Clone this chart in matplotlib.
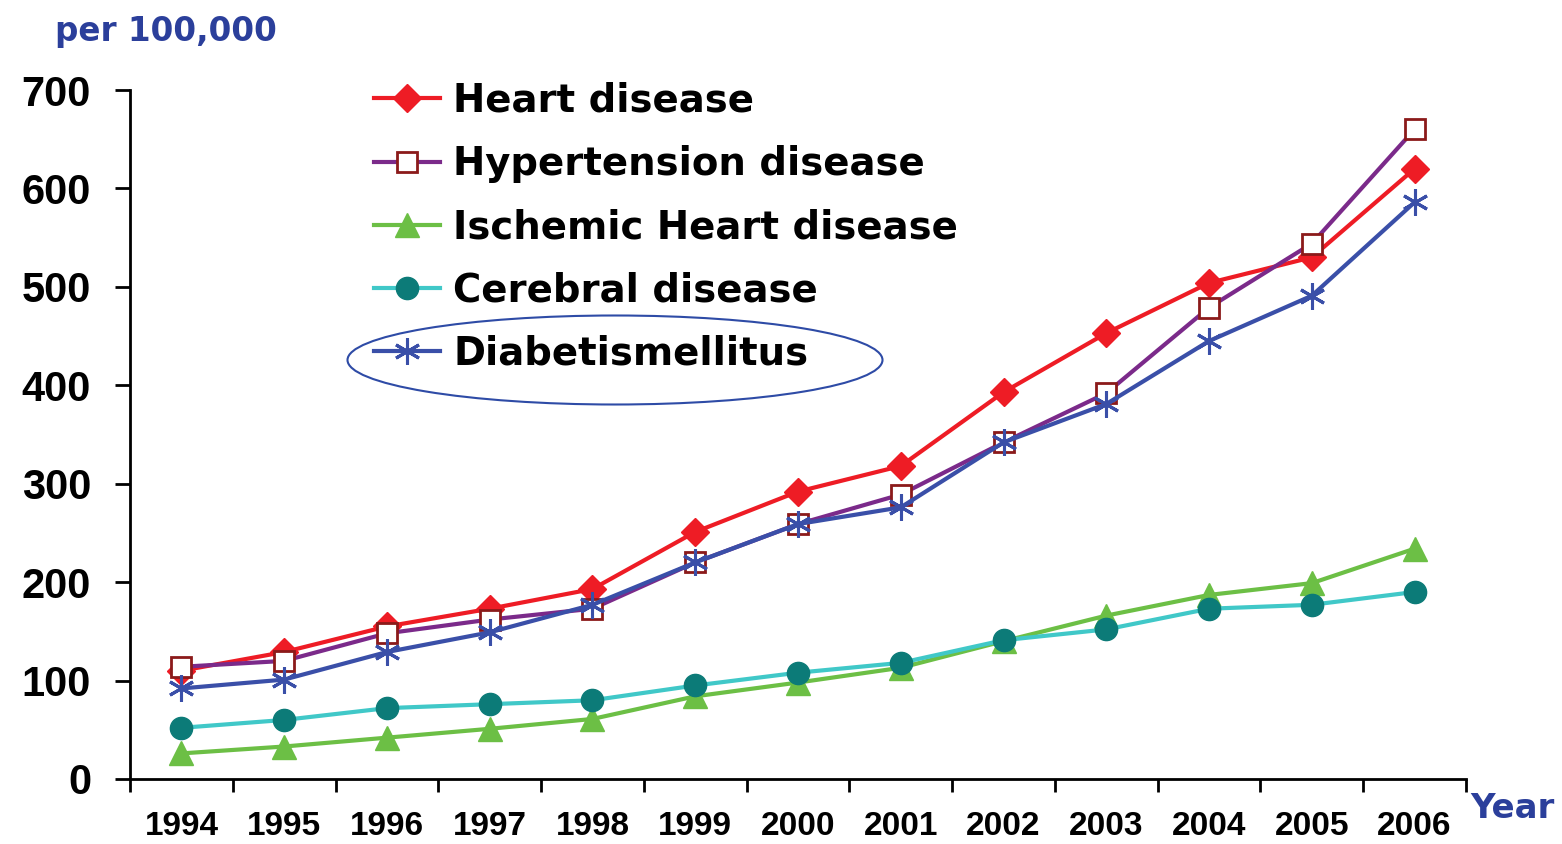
import matplotlib
matplotlib.use("Agg")
import matplotlib.pyplot as plt
from matplotlib.patches import Ellipse

plt.rcParams['font.family'] = ['Liberation Sans', 'DejaVu Sans']
plt.rcParams['font.weight'] = 'bold'

years = ['1994', '1995', '1996', '1997', '1998', '1999', '2000',
         '2001', '2002', '2003', '2004', '2005', '2006']

heart = [110, 129, 155, 173, 193, 251, 292, 318, 393, 453, 504, 530, 620]
hypertension = [114, 120, 148, 162, 173, 220, 259, 289, 342, 392, 479, 544, 660]
ischemic = [26, 33, 42, 51, 61, 84, 98, 113, 140, 166, 187, 199, 234]
cerebral = [52, 60, 72, 76, 80, 95, 108, 118, 141, 152, 173, 177, 190]
diabetes = [92, 101, 129, 149, 177, 220, 259, 276, 342, 381, 445, 491, 586]

names = ['Heart disease', 'Hypertension disease', 'Ischemic Heart disease',
         'Cerebral disease', 'Diabetismellitus']

blue_txt = '#2B3F9B'

fig = plt.figure(figsize=(15.62, 8.44), dpi=100)
ax = fig.add_axes([130 / 1562, 1 - 779 / 844, (1466 - 130) / 1562, (779 - 90) / 844])

x = list(range(len(years)))
ax.plot(x, heart, color='#EE1C25', lw=3, marker='D', ms=14,
        mfc='#EE1C25', mec='#EE1C25', label=names[0])
ax.plot(x, hypertension, color='#7B2A8A', lw=3, marker='s', ms=14,
        mfc='white', mec='#8B1A1A', mew=2, label=names[1])
ax.plot(x, ischemic, color='#6CBF45', lw=3, marker='^', ms=17,
        mfc='#6CBF45', mec='#6CBF45', label=names[2])
ax.plot(x, cerebral, color='#40C8C8', lw=3, marker='o', ms=16,
        mfc='#0C7B78', mec='#0C7B78', label=names[3])
ax.plot(x, diabetes, color='#3A4FA8', lw=3, marker=(6, 2, 0), ms=19,
        mec='#3A4FA8', mew=2.2, label=names[4])

ax.set_xlim(-0.5, len(years) - 0.5)
ax.set_ylim(0, 700)
ax.set_yticks(range(0, 701, 100))
ax.tick_params(axis='y', labelsize=30, length=11, width=2, direction='out', pad=17)
ax.set_xticks([i + 0.5 for i in range(-1, len(years))], minor=False)
ax.set_xticklabels([])
ax.set_xticks(x, minor=True)
ax.set_xticklabels(years, minor=True)
ax.tick_params(axis='x', which='major', length=9, width=2, direction='out')
ax.tick_params(axis='x', which='minor', length=0, labelsize=24, pad=23)
for lab in ax.get_yticklabels() + ax.get_xticklabels(minor=True):
    lab.set_fontweight('bold')
ax.spines['top'].set_visible(False)
ax.spines['right'].set_visible(False)
ax.spines['left'].set_linewidth(2)
ax.spines['bottom'].set_linewidth(2)

leg = fig.legend(loc='upper left', bbox_to_anchor=(374 / 1562, 1 - 82 / 844),
                 frameon=False, prop={'family': 'DejaVu Sans', 'weight': 'bold', 'size': 27.8},
                 handlelength=1.7, handletextpad=0.35, labelspacing=0.65,
                 borderpad=0, borderaxespad=0)

fig.patches.append(Ellipse((615 / 1562, 1 - 360 / 844), 535 / 1562, 89 / 844,
                           transform=fig.transFigure, fill=False,
                           edgecolor='#2E4BA6', lw=1.5))

fig.text(55 / 1562, 1 - 31 / 844, 'per 100,000', color=blue_txt, fontsize=23.5,
         family='DejaVu Sans', fontweight='bold', va='center', ha='left')
fig.text(1470 / 1562, 1 - 808 / 844, 'Year', color=blue_txt, fontsize=24.5,
         family='DejaVu Sans', fontweight='bold', va='center', ha='left')

fig.savefig('out.png', dpi=100)
